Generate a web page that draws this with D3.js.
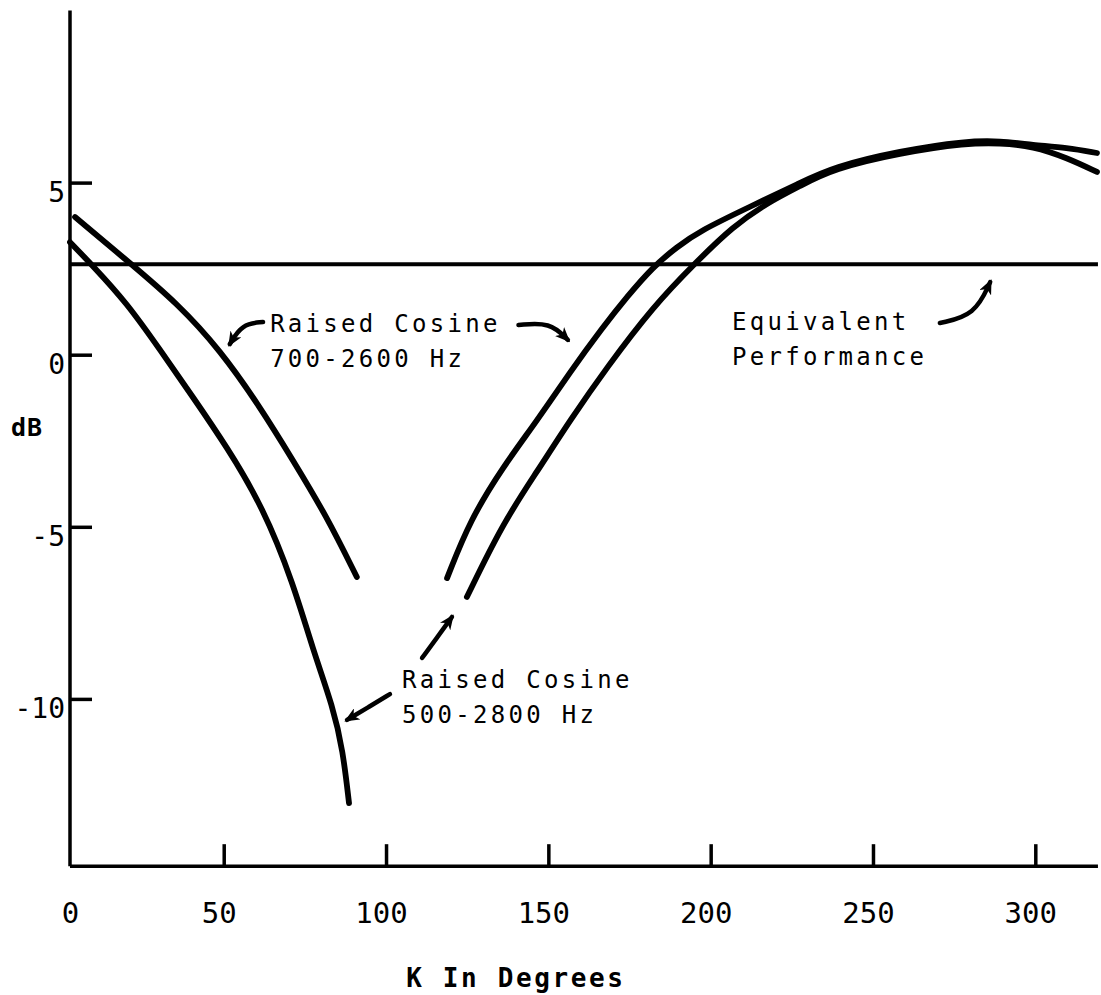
<!DOCTYPE html>
<html><head><meta charset="utf-8">
<script src="https://cdn.jsdelivr.net/npm/d3@7"></script>
<style>
html,body{margin:0;padding:0;background:#fff;}
svg{display:block;}
text{font-family:"DejaVu Sans Mono",monospace;fill:#000;}
</style></head><body>
<svg id="chart" width="1101" height="995"></svg>
<script>
// ---------- data ----------
const kTicks = [0, 50, 100, 150, 200, 250, 300];
const dbTicks = [5, 0, -5, -10];
const xLabel = "K In Degrees";
const yLabel = "dB";
const equivalentDb = 2.63;

// Raised Cosine 700-2600 Hz (left branch, right branch)
const rc700Left = [[4.2,4.00],[21.8,2.61],[35.6,1.50],[48.9,0.14],[61.2,-1.52],[71.3,-3.06],[81.8,-4.71],[91.0,-6.46]];
const rc700Right = [[118.8,-6.49],[125.9,-4.80],[136.0,-3.26],[146.5,-1.92],[156.7,-0.50],[166.8,0.80],[174.2,1.68],[182.2,2.55],[189.6,3.13],[196.7,3.60],[212.1,4.30],[227.5,4.99],[237.7,5.45],[258.3,5.92],[278.9,6.21],[289.1,6.21],[299.3,6.09],[309.8,6.01],[319.0,5.86]];
// Raised Cosine 500-2800 Hz (left branch, right branch)
const rc500Left = [[2.65,3.27],[9.4,2.61],[20.2,1.50],[30.4,0.14],[40.5,-1.23],[51.0,-2.68],[62.1,-4.43],[71.4,-6.63],[77.5,-8.58],[83.7,-10.24],[86.7,-11.49],[88.6,-13.03]];
const rc500Right = [[124.9,-7.04],[136.0,-4.89],[146.5,-3.40],[156.7,-1.90],[168.1,-0.36],[182.2,1.39],[195.2,2.66],[206.9,3.73],[217.4,4.41],[227.5,4.90],[237.7,5.40],[258.3,5.86],[278.9,6.15],[289.1,6.15],[299.3,6.06],[309.8,5.72],[319.0,5.31]];

// annotation texts and arrows (in data units)
const noteTexts = [
  {k: 64.3, db: 0.66, lines: ["Raised Cosine", "700-2600 Hz"]},
  {k: 206.6, db: 0.72, lines: ["Equivalent", "Performance"]},
  {k: 104.9, db: -9.68, lines: ["Raised Cosine", "500-2800 Hz"]}
];
const noteArrows = [
  [[62.1,0.95],[55.6,0.89],[51.9,0.31]],
  [[140.8,0.86],[150.5,0.95],[156.0,0.43]],
  [[270.6,0.92],[281.4,1.15],[286.1,2.11]],
  [[101.2,-9.86],[94.6,-10.24],[88.0,-10.61]],
  [[111.1,-8.81],[115.7,-8.22],[120.3,-7.62]]
];
// axis extents (data units)
const kRange = [2.65, 319.3];
const dbRange = [-14.86, 10.0];
const xLabelCenterK = 140;

// ---------- chart ----------
const svg = d3.select("#chart");
const x = d3.scaleLinear().domain([0, 300]).range([61.4, 1035.3]);
const y = d3.scaleLinear().domain([-10, 5]).range([698.9, 182.6]);

// axes lines
svg.append("line")
  .attr("x1", x(kRange[0])).attr("x2", x(kRange[0]))
  .attr("y1", y(dbRange[0])).attr("y2", y(dbRange[1]))
  .attr("stroke", "#000").attr("stroke-width", 3.5);
svg.append("line")
  .attr("x1", x(kRange[0])).attr("x2", x(kRange[1]))
  .attr("y1", y(dbRange[0])).attr("y2", y(dbRange[0]))
  .attr("stroke", "#000").attr("stroke-width", 3.5);

// y axis ticks + labels
const yAxis = svg.append("g")
  .attr("transform", `translate(${x(kRange[0])},0)`)
  .call(d3.axisLeft(y).tickValues(dbTicks).tickFormat(d => String(d))
    .tickSizeInner(-22).tickSizeOuter(0).tickPadding(5));
yAxis.select(".domain").remove();
yAxis.selectAll(".tick line").attr("stroke", "#000").attr("stroke-width", 3.5);
yAxis.selectAll(".tick text")
  .attr("font-size", 28).attr("font-family", '"DejaVu Sans Mono", monospace')
  .attr("dy", "0.68em").attr("fill", "#000");

// x axis ticks + labels
const xAxis = svg.append("g")
  .attr("transform", `translate(0,${y(dbRange[0])})`)
  .call(d3.axisBottom(x).tickValues(kTicks).tickFormat(d => String(d))
    .tickSizeInner(-22).tickSizeOuter(0).tickPadding(36));
xAxis.select(".domain").remove();
xAxis.selectAll(".tick line").attr("stroke", "#000").attr("stroke-width", 3.5)
  .attr("display", d => d === 0 ? "none" : null);
xAxis.selectAll(".tick text")
  .attr("font-size", 29).attr("font-family", '"DejaVu Sans Mono", monospace')
  .attr("fill", "#000")
  .attr("dx", d => d === 0 ? x(kRange[0]) - x(0) : -5);

// axis titles
svg.append("text").text(yLabel)
  .attr("x", 11).attr("y", 436)
  .attr("font-size", 25).attr("font-weight", "bold").attr("letter-spacing", 1);
svg.append("text").text(xLabel)
  .attr("x", x(xLabelCenterK)).attr("y", 987)
  .attr("text-anchor", "middle")
  .attr("font-size", 26).attr("font-weight", "bold").attr("letter-spacing", 2.6);

// equivalent performance line
svg.append("line")
  .attr("x1", x(kRange[0])).attr("x2", x(kRange[1]))
  .attr("y1", y(equivalentDb)).attr("y2", y(equivalentDb))
  .attr("stroke", "#000").attr("stroke-width", 4);

// curves
const line = d3.line().x(d => x(d[0])).y(d => y(d[1])).curve(d3.curveBasis);
[rc700Left, rc700Right, rc500Left, rc500Right].forEach(s => {
  svg.append("path").attr("d", line(s))
    .attr("fill", "none").attr("stroke", "#000")
    .attr("stroke-width", 5.8).attr("stroke-linecap", "round").attr("stroke-linejoin", "round");
});

// arrow marker
svg.append("defs").append("marker")
  .attr("id", "ah").attr("viewBox", "0 -6 14 12")
  .attr("refX", 11).attr("refY", 0)
  .attr("markerWidth", 15).attr("markerHeight", 13)
  .attr("markerUnits", "userSpaceOnUse").attr("orient", "auto")
  .append("path").attr("d", "M0,-6 L14,0 L0,6 L4,0 Z").attr("fill", "#000");

const arrowLine = d3.line().x(d => x(d[0])).y(d => y(d[1])).curve(d3.curveBasis);
noteArrows.forEach(a => {
  svg.append("path").attr("d", arrowLine(a))
    .attr("fill", "none").attr("stroke", "#000").attr("stroke-width", 4.5)
    .attr("stroke-linecap", "round")
    .attr("marker-end", "url(#ah)");
});

// annotation texts
noteTexts.forEach(n => {
  const t = svg.append("text")
    .attr("x", x(n.k)).attr("y", y(n.db))
    .attr("font-size", 24).attr("letter-spacing", 3.3);
  n.lines.forEach((ln, i) => {
    t.append("tspan").attr("x", x(n.k)).attr("dy", i === 0 ? 0 : 35).text(ln);
  });
});
</script>
</body></html>
